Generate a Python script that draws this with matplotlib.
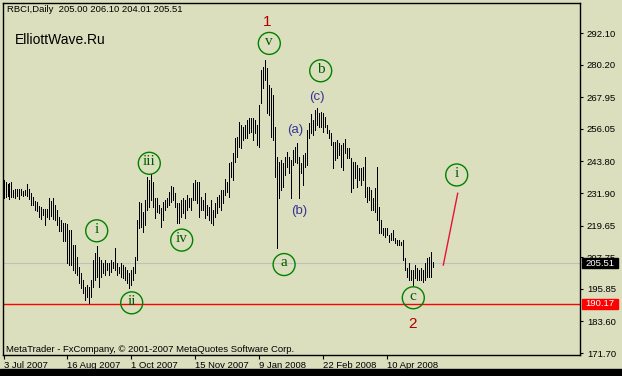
# %% Imports
import numpy as np
import matplotlib.pyplot as plt
from matplotlib.patches import Rectangle

# %% Data (RBCI daily bars, Jul 2007 - Apr 2008)
highs = [
    236.8, 236.1, 235.3, 235.7, 236.1, 233.0, 233.4, 233.4, 233.4, 233.4,
    232.7, 233.0, 235.3, 233.4, 231.9, 230.4, 228.9, 228.5, 227.0, 226.7,
    225.9, 225.9, 225.9, 230.0, 228.9, 230.0, 227.4, 225.5, 222.9, 221.8,
    220.6, 220.6, 220.3, 218.0, 218.0, 212.4, 212.4, 207.8, 204.1, 201.8,
    199.2, 196.6, 197.3, 196.6, 199.2, 206.7, 209.3, 212.0, 207.8, 206.7,
    205.6, 206.7, 205.6, 205.6, 206.7, 206.0, 211.2, 205.6, 204.1, 205.6,
    204.8, 204.1, 202.9, 201.8, 202.9, 204.1, 207.8, 221.8, 228.5, 228.2,
    224.8, 229.3, 237.9, 236.8, 239.1, 236.1, 230.0, 230.0, 227.4, 226.3,
    228.5, 229.3, 230.0, 232.3, 234.5, 234.2, 231.9, 228.2, 228.2, 229.3,
    230.0, 229.3, 231.2, 230.0, 230.0, 235.7, 236.8, 236.1, 236.1, 230.4,
    229.3, 231.9, 227.4, 226.7, 229.3, 225.5, 228.2, 230.4, 231.2, 233.0,
    233.0, 237.2, 236.1, 243.2, 243.6, 247.0, 252.6, 253.0, 258.6, 257.5,
    256.7, 257.5, 259.4, 260.1, 260.1, 260.1, 259.4, 257.5, 265.0, 278.2,
    279.3, 282.0, 278.9, 272.5, 271.4, 268.8, 256.7, 245.5, 243.6, 244.3,
    243.2, 245.5, 247.3, 245.5, 244.3, 248.1, 249.2, 250.7, 245.5, 243.2,
    246.2, 247.0, 255.6, 258.3, 261.6, 259.4, 263.1, 263.9, 262.0, 262.4,
    262.0, 260.5, 257.5, 255.6, 254.5, 251.1, 251.1, 251.9, 250.7, 250.0,
    250.7, 252.2, 248.8, 248.8, 245.1, 243.6, 243.6, 242.4, 241.3, 241.3,
    241.7, 245.5, 234.2, 234.2, 233.0, 230.0, 233.8, 241.7, 226.7, 221.8,
    218.7, 218.7, 218.7, 216.1, 216.9, 218.0, 215.0, 214.2, 214.2, 213.5,
    214.2, 207.5, 203.7, 205.6, 202.9, 202.9, 204.8, 203.7, 202.9, 203.7,
    202.9, 205.6, 207.5, 207.8, 209.7, 206.10,
]
lows = [
    230.0, 230.4, 230.8, 229.7, 230.4, 230.4, 230.0, 230.8, 229.7, 231.2,
    230.8, 231.2, 230.8, 229.7, 227.4, 227.4, 225.5, 225.1, 222.9, 222.1,
    223.6, 219.9, 222.9, 222.1, 223.3, 222.1, 221.8, 219.9, 217.6, 217.6,
    213.9, 213.9, 205.6, 204.8, 204.8, 202.9, 201.8, 201.1, 198.1, 196.2,
    194.3, 191.7, 192.8, 190.5, 192.8, 196.6, 199.2, 200.3, 196.6, 200.3,
    201.8, 201.1, 202.9, 201.1, 202.2, 203.7, 202.9, 201.1, 201.8, 200.3,
    199.9, 199.2, 198.1, 196.2, 197.3, 199.2, 201.8, 206.7, 218.7, 219.1,
    217.2, 219.9, 225.5, 226.7, 229.3, 226.7, 222.5, 224.8, 224.4, 219.1,
    221.8, 225.5, 226.7, 227.4, 228.5, 229.3, 226.7, 220.6, 220.6, 222.9,
    224.4, 222.5, 225.5, 226.7, 225.5, 229.3, 229.3, 228.2, 222.9, 225.5,
    225.5, 222.5, 223.6, 221.8, 220.6, 219.9, 222.9, 224.4, 226.7, 225.5,
    228.2, 231.2, 232.3, 230.4, 237.9, 236.8, 243.6, 245.5, 249.2, 248.8,
    251.9, 252.6, 252.6, 254.5, 254.9, 251.9, 254.5, 250.0, 249.2, 265.8,
    271.4, 274.4, 262.0, 261.3, 253.0, 251.9, 237.9, 211.2, 230.0, 233.0,
    234.2, 238.7, 241.7, 239.4, 230.0, 242.4, 243.6, 243.2, 230.0, 239.4,
    234.9, 241.7, 242.4, 252.6, 254.5, 253.7, 255.6, 257.5, 256.7, 256.7,
    254.9, 256.7, 254.5, 252.6, 250.0, 241.3, 244.3, 245.1, 246.2, 241.7,
    240.6, 247.0, 245.1, 245.1, 232.3, 233.8, 237.6, 234.2, 236.8, 234.9,
    236.8, 230.4, 228.5, 229.3, 225.5, 225.5, 224.8, 221.8, 216.9, 216.9,
    216.1, 215.4, 216.1, 213.5, 214.2, 214.2, 213.1, 212.4, 212.4, 212.4,
    206.7, 202.9, 200.3, 199.2, 199.2, 197.3, 199.9, 199.2, 199.2, 199.2,
    198.4, 199.2, 200.3, 200.3, 200.3, 204.01,
]

date_pos = [0, 32, 64, 96, 128, 160, 192]
date_labels = ['3 Jul 2007', '16 Aug 2007', '1 Oct 2007', '15 Nov 2007',
               '9 Jan 2008', '22 Feb 2008', '10 Apr 2008']
price_ticks = [292.10, 280.20, 267.95, 256.05, 243.80, 231.90,
               219.65, 207.75, 195.85, 183.60, 171.70]
last_price = 205.51
support = 190.17

# Elliott wave marks (bar index, price)
wave_labels = ['v', 'b', 'iii', 'i', 'iv', 'ii', 'a', 'c', 'i']
wave_x = [132.9, 158.6, 72.9, 46.6, 89.1, 64.1, 140.3, 204.9, 226.6]
wave_y = [288.2, 277.9, 243.1, 217.7, 214.2, 190.6, 205.0, 192.5, 238.7]
sub_labels = ['(a)', '(b)', '(c)']
sub_x = [145.8, 147.8, 156.6]
sub_y = [255.6, 225.1, 268.1]
deg_labels = ['1', '2']
deg_x = [131.8, 204.3]
deg_y = [296.2, 182.6]
proj_x = [219.9, 227.1]
proj_y = [204.8, 231.8]

# %% Plot
bg = '#dcdfbd'
W, H = 622, 376
fig = plt.figure(figsize=(W / 100, H / 100), dpi=100, facecolor=bg)
ax = fig.add_axes([3 / W, 21 / H, 577 / W, 352 / H], facecolor=bg)

x = np.arange(len(highs))
ax.vlines(x, lows, highs, colors='black', linewidth=0.72, antialiased=False, zorder=3)

ax.axhline(last_price, color='#c0c0c0', lw=0.8, zorder=2)
ax.axhline(support, color='red', lw=1.0, zorder=2)
ax.plot(proj_x, proj_y, color='#e8103c', lw=1.0, zorder=3)

ax.set_xlim(-0.25, 288.25)
ax.set_ylim(170.97, 303.4)

for s in ax.spines.values():
    s.set_color('black')
    s.set_linewidth(1.0)

tick_font = dict(family='Liberation Sans', size=6.8)
ax.yaxis.tick_right()
ax.set_yticks(price_ticks)
ax.set_yticklabels(['%.2f' % p for p in price_ticks], fontdict=tick_font)
ax.tick_params(axis='y', direction='out', length=2.5, width=0.8, pad=2.5, colors='black')
ax.set_xticks(date_pos)
ax.set_xticklabels(date_labels, fontdict=tick_font, ha='left')
ax.tick_params(axis='x', direction='out', length=3, width=0.8, pad=1.5, colors='black')

# price boxes on the right scale
yt = ax.get_yaxis_transform()
for val, col in [(last_price, 'black'), (support, 'red')]:
    ax.add_patch(Rectangle((1 + 2 / 577, val - 1.9), 36 / 577, 3.8, transform=yt,
                           color=col, clip_on=False, zorder=8))
    ax.text(1 + 5 / 577, val, '%.2f' % val, transform=yt, color='white', va='center',
            ha='left', zorder=9, **tick_font)

# wave labels
ax.scatter(wave_x, wave_y, s=250, facecolors='none', edgecolors='#008000',
           linewidths=1.0, zorder=5)
for lab, wx, wy in zip(wave_labels, wave_x, wave_y):
    ax.text(wx, wy + 0.6, lab, ha='center', va='center', color='#005a00',
            family='Liberation Serif', size=11, zorder=6)
for lab, sx, sy in zip(sub_labels, sub_x, sub_y):
    ax.text(sx, sy, lab, ha='center', va='center', color='#34349a',
            family='Liberation Sans', size=9.5, zorder=6)
for lab, dx, dy in zip(deg_labels, deg_x, deg_y):
    ax.text(dx, dy, lab, ha='center', va='center', color='#b00000',
            family='Liberation Sans', size=11, zorder=6)

ax.text(4 / 577, 1 - 7 / 352, 'RBCI,Daily  205.00 206.10 204.01 205.51', transform=ax.transAxes,
        ha='left', va='center', **tick_font)
ax.text(12 / 577, 1 - 37 / 352, 'ElliottWave.Ru', transform=ax.transAxes,
        ha='left', va='center', family='Liberation Sans', size=10)
ax.text(3 / 577, 5 / 352, 'MetaTrader - FxCompany, \u00a9 2001-2007 MetaQuotes Software Corp.',
        transform=ax.transAxes, ha='left', va='center', **tick_font)

# status strip at the bottom
fig.add_artist(Rectangle((0, 0), 1, 7 / H, transform=fig.transFigure, color='black'))

fig.savefig('out.png', dpi=100, facecolor=bg)
